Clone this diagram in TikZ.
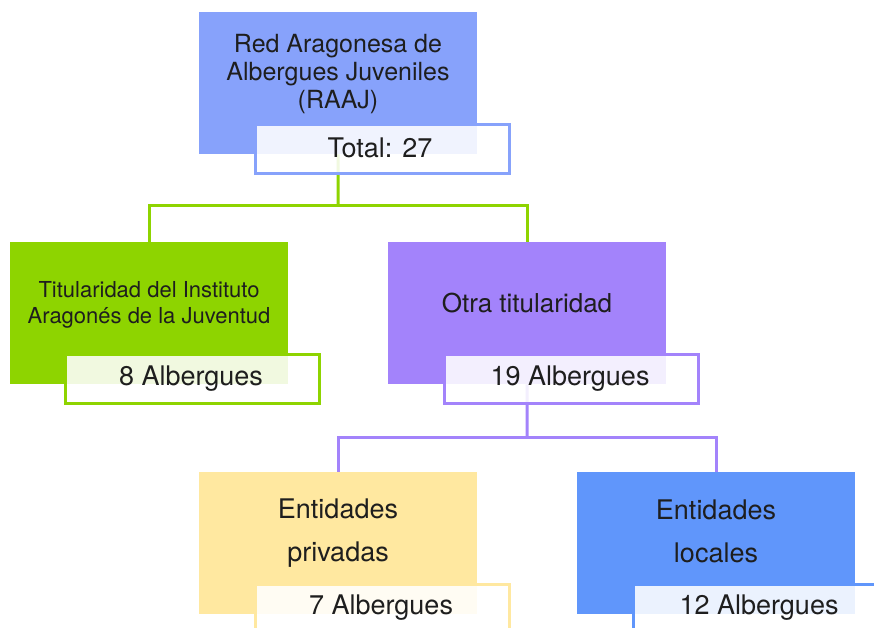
\documentclass[tikz,border=0pt]{standalone}
\usepackage{fontspec}
\setmainfont{TeX Gyre Heros}
\definecolor{cTop}{RGB}{135,162,251}
\definecolor{cGreen}{RGB}{142,212,0}
\definecolor{cPurple}{RGB}{163,131,251}
\definecolor{cYellow}{RGB}{255,232,160}
\definecolor{cBlue}{RGB}{96,150,251}
\definecolor{cText}{RGB}{30,30,30}
\tikzset{
  bigbox/.style={rectangle, fill=#1, draw=none, anchor=north west, minimum width=278pt, minimum height=142pt, inner sep=0pt, text=cText, align=center},
  lblbox/.style={rectangle, fill=white, fill opacity=0.88, text opacity=1, draw=#1, line width=3pt, anchor=north west, minimum width=254pt, minimum height=49pt, inner sep=0pt, text=cText, font=\fontsize{27}{30}\selectfont},
  conn/.style={draw=#1, line width=3pt}
}
\begin{document}
\begin{tikzpicture}[x=1pt,y=-1pt]
\useasboundingbox (0,0) rectangle (874,627);
% big boxes
\node[bigbox=cTop] (top) at (199,12) {};
\node[bigbox=cGreen] (green) at (10,242) {};
\node[bigbox=cPurple] (purple) at (388,242) {};
\node[bigbox=cYellow] (yellow) at (199,472) {};
\node[bigbox=cBlue] (blue) at (577,472) {};
% main texts
\node[text=cText, align=center, font=\fontsize{25}{28}\selectfont] (toptxt) at (338,74) {Red Aragonesa de\\Albergues Juveniles\\(RAAJ)};
\node[text=cText, align=center, font=\fontsize{22}{26}\selectfont] (greentxt) at (149,305) {Titularidad del Instituto\\Aragonés de la Juventud};
\node[text=cText, align=center, font=\fontsize{26}{30}\selectfont] (purpletxt) at (527,303) {Otra titularidad};
\node[text=cText, align=center, font=\fontsize{27}{43}\selectfont] (yellowtxt) at (338,533) {Entidades\\privadas};
\node[text=cText, align=center, font=\fontsize{27}{43}\selectfont] (bluetxt) at (716,531) {Entidades\\locales};
% connectors
\coordinate (j1) at (338,205);
\coordinate (j2) at (527,437);
\draw[conn=cGreen] (top.south) -- (j1);
\draw[conn=cGreen] (j1) -| (green.north);
\draw[conn=cGreen] (j1) -| (purple.north);
\draw[conn=cPurple] (purple.south) -- (j2);
\draw[conn=cPurple] (j2) -| (yellow.north);
\draw[conn=cPurple] (j2) -| (blue.north);
% label boxes
\node[lblbox=cTop] (toplbl) at (254,123) {};
\node[text=cText, font=\fontsize{27}{30}\selectfont] at (380,148) {Total: 27};
\node[lblbox=cGreen] (greenlbl) at (64,353) {};
\node[text=cText, font=\fontsize{27}{30}\selectfont] at (191,379) {8 Albergues};
\node[lblbox=cPurple] (purplelbl) at (443,353) {};
\node[text=cText, font=\fontsize{27}{30}\selectfont] at (570,379) {19 Albergues};
\node[lblbox=cYellow] (yellowlbl) at (254,583) {};
\node[text=cText, font=\fontsize{27}{30}\selectfont] at (381,608) {7 Albergues};
\node[lblbox=cBlue] (bluelbl) at (632,583) {};
\node[text=cText, font=\fontsize{27}{30}\selectfont] at (759,608) {12 Albergues};
\end{tikzpicture}
\end{document}
